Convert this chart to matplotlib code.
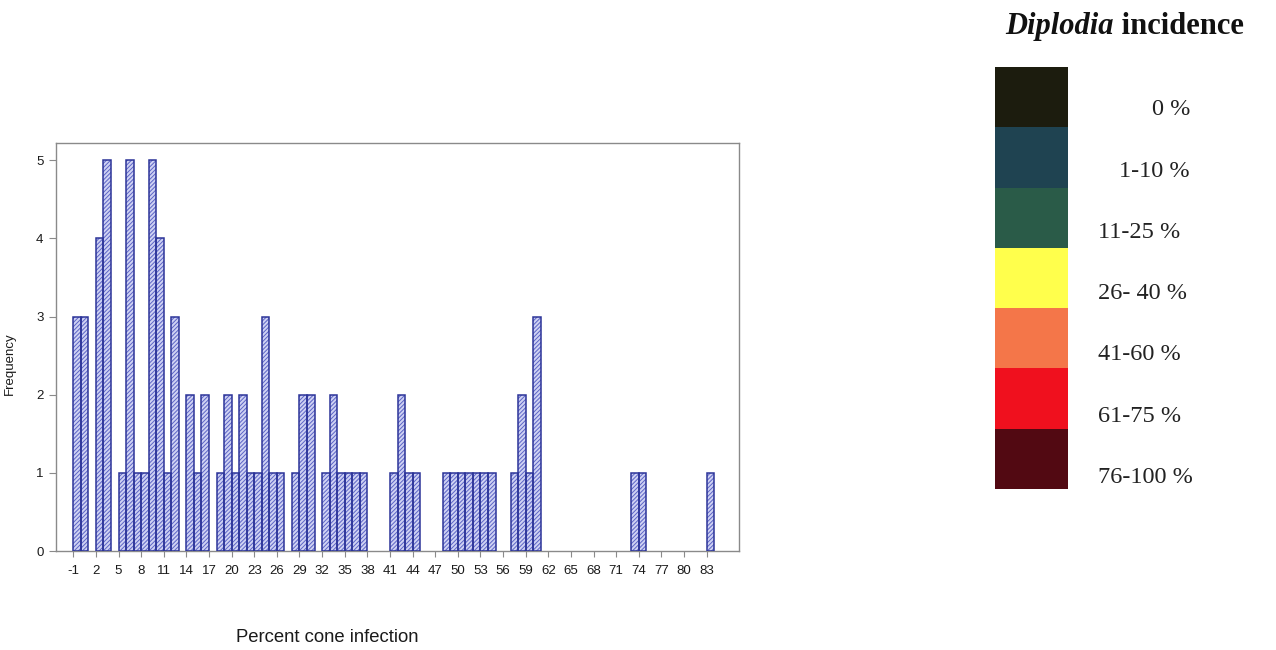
import matplotlib
matplotlib.use("Agg")
import matplotlib.pyplot as plt
import numpy as np

# Frequency of each percent-cone-infection value (one bin per integer)
infection_values = list(range(-1, 84))
frequencies = [
    3, 3, 0, 4, 5, 0, 1, 5, 1, 1,   # -1 .. 8
    5, 4, 1, 3, 0, 2, 1, 2, 0, 1,   # 9 .. 18
    2, 1, 2, 1, 1, 3, 1, 1, 0, 1,   # 19 .. 28
    2, 2, 0, 1, 2, 1, 1, 1, 1, 0,   # 29 .. 38
    0, 0, 1, 2, 1, 1, 0, 0, 0, 1,   # 39 .. 48
    1, 1, 1, 1, 1, 1, 0, 0, 1, 2,   # 49 .. 58
    1, 3, 0, 0, 0, 0, 0, 0, 0, 0,   # 59 .. 68
    0, 0, 0, 0, 1, 1, 0, 0, 0, 0,   # 69 .. 78
    0, 0, 0, 0, 1,                  # 79 .. 83
]
x_ticks = list(range(-1, 84, 3))
y_ticks = [0, 1, 2, 3, 4, 5]

# Incidence classes for the colour key
class_labels = ["0 %", "1-10 %", "11-25 %", "26- 40 %", "41-60 %", "61-75 %", "76-100 %"]
class_colors = ["#1c1c0e", "#1f4351", "#2a5b48", "#ffff4c", "#f47649", "#f0101e", "#520912"]
label_align = ["right", "right", "left", "left", "left", "left", "left"]

W, H = 1276, 650
fig = plt.figure(figsize=(W / 100, H / 100), dpi=100)
fig.patch.set_facecolor("white")

# ---- histogram -------------------------------------------------------------
ax_l, ax_r, ax_t, ax_b = 56, 739, 143, 551
ax = fig.add_axes([ax_l / W, 1 - ax_b / H, (ax_r - ax_l) / W, (ax_b - ax_t) / H])

xv = np.array(infection_values)
fv = np.array(frequencies)
nz = fv > 0
plt.rcParams["hatch.linewidth"] = 0.7
# hatched fill
ax.bar(xv[nz], fv[nz], width=1.0, align="edge", facecolor="#cfd2f3",
       edgecolor="#5c64c6", linewidth=0, hatch="////////", zorder=2)
# bar outlines
ax.bar(xv[nz], fv[nz], width=1.0, align="edge", facecolor="none",
       edgecolor="#2c3499", linewidth=1.1, zorder=3)

ax.set_xlim(-3.3, 87.3)
ax.set_ylim(0, 5.22)
ax.set_xticks(x_ticks)
ax.set_xticklabels([str(v) for v in x_ticks])
ax.set_yticks(y_ticks)
ax.set_yticklabels([str(v) for v in y_ticks])
for s in ax.spines.values():
    s.set_color("#8a8a8a")
    s.set_linewidth(1.0)
ax.tick_params(axis="x", direction="out", length=4, width=0.8, color="#8a8a8a",
               labelsize=9.5, pad=6, labelcolor="#1a1a1a")
ax.tick_params(axis="y", direction="out", length=5, width=0.8, color="#8a8a8a",
               labelsize=9.5, pad=4, labelcolor="#1a1a1a")
for lbl in ax.get_xticklabels() + ax.get_yticklabels():
    lbl.set_family("Liberation Sans")

ax.set_ylabel("Frequency", family="Liberation Sans", fontsize=9.5, color="#1a1a1a")
ax.yaxis.set_label_coords((16 - ax_l) / (ax_r - ax_l), 0.46)
ax.set_xlabel("Percent cone infection", family="Liberation Sans", fontsize=13.3,
              color="#1a1a1a")
ax.xaxis.set_label_coords((327 - ax_l) / (ax_r - ax_l), (ax_b - 637) / (ax_b - ax_t))
ax.xaxis.label.set_va("center")

# ---- colour key ----------------------------------------------------------------
key = fig.add_axes([0, 0, 1, 1], facecolor="none")
key.set_xlim(0, W)
key.set_ylim(H, 0)
key.axis("off")

box_left, box_right = 995, 1068
box_top, box_bottom = 67, 489
n = len(class_labels)
box_h = (box_bottom - box_top) / n
idx = np.arange(n)
key.bar(box_left, box_h, width=box_right - box_left, bottom=box_top + idx * box_h,
        align="edge", color=class_colors, edgecolor="none")
for i, (lab, ha) in enumerate(zip(class_labels, label_align)):
    x = 1190 if ha == "right" else 1098
    key.text(x, box_top + (i + 1) * box_h - 12 + i, lab, ha=ha, va="baseline",
             family="Liberation Serif", fontsize=17.5, color="#222222")

t1 = key.text(1005, 34, "Diplodia", ha="left", va="baseline",
              family="Liberation Serif", fontsize=22, style="italic",
              weight="bold", color="#111111")
fig.canvas.draw()
bb = t1.get_window_extent()
x_end = key.transData.inverted().transform((bb.x1, bb.y0))[0]
key.text(x_end, 34, " incidence", ha="left", va="baseline",
         family="Liberation Serif", fontsize=22, weight="bold", color="#111111")

fig.savefig("out.png", dpi=100, facecolor="white")
